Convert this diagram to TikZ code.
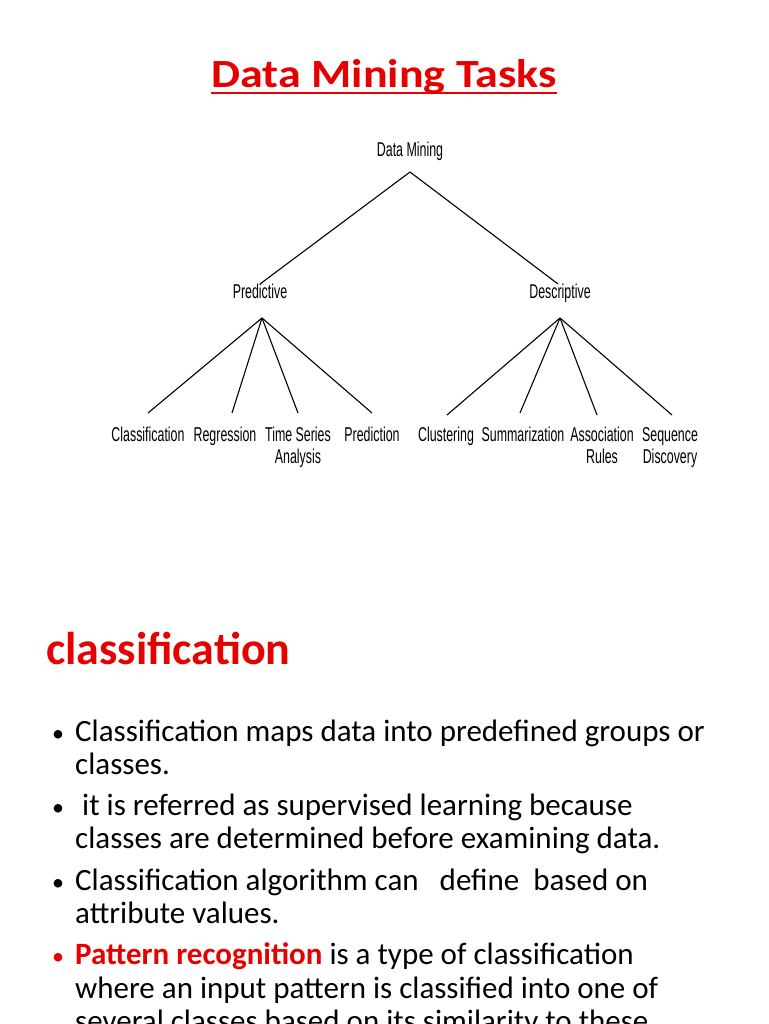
\documentclass[tikz,border=0pt]{standalone}
\usepackage{fontspec}
\setmainfont{Carlito}
\newfontfamily\narrowf[FakeStretch=0.62]{Liberation Sans}
\definecolor{tred}{RGB}{230,0,0}
\begin{document}
\begin{tikzpicture}[x=1pt,y=-1pt,
  tn/.style={font=\narrowf\fontsize{20}{22}\selectfont,align=center,inner sep=1pt,anchor=north},
  bl/.style={anchor=base west,inner sep=0pt,font=\fontsize{31}{34}\selectfont},
  ln/.style={line width=1.1pt}]
\useasboundingbox[fill=white] (0,0) rectangle (768,1024);
\clip (0,0) rectangle (768,1024);
\node[anchor=base,inner sep=0pt,font=\bfseries\fontsize{40}{44}\selectfont,text=tred] (title) at (384,88) {\scalebox{1.15}[1]{Data Mining Tasks}};
\draw[tred,line width=2.2pt] ([yshift=-5pt]title.base west) -- ([yshift=-5pt]title.base east);
\node[tn] (dm) at (410,141) {Data Mining};
\node[tn] (pr) at (260,283) {Predictive};
\node[tn] (de) at (560,283) {Descriptive};
\node[tn] (c1) at (148,426) {Classification};
\node[tn] (c2) at (225,426) {Regression};
\node[tn] (c3) at (298,426) {Time Series\\Analysis};
\node[tn] (c4) at (372,426) {Prediction};
\node[tn] (c5) at (446,426) {Clustering};
\node[tn] (c6) at (523,426) {Summarization};
\node[tn] (c7) at (602,426) {Association\\Rules};
\node[tn] (c8) at (670,426) {Sequence\\Discovery};
\coordinate (dmb) at (410,172);
\coordinate (prb) at (262,318);
\coordinate (deb) at (560,318);
\draw[ln] (dmb) -- (260,284);
\draw[ln] (dmb) -- (558,284);
\draw[ln] (prb) -- (148,413);
\draw[ln] (prb) -- (232,413);
\draw[ln] (prb) -- (298,413);
\draw[ln] (prb) -- (372,413);
\draw[ln] (deb) -- (447,415);
\draw[ln] (deb) -- (520,413);
\draw[ln] (deb) -- (597,415);
\draw[ln] (deb) -- (672,415);
\node[anchor=base west,inner sep=0pt,font=\bfseries\fontsize{46}{50}\selectfont,text=tred] (cl) at (46,664) {classification};
\foreach \y/\t [count=\i] in {741/Classification maps data into predefined groups or,
  774/classes.,
  815/{\ it is referred as supervised learning because},
  848/classes are determined before examining data.,
  890/Classification algorithm can\ \ \ define\ \ based on,
  923/attribute values.,
  964/{\textcolor{tred}{\bfseries Pattern recognition} is a type of classification},
  998/where an input pattern is classified into one of,
  1031/several classes based on its similarity to these}
  \node[bl] (t\i) at (75,\y) {\t};
\foreach \y in {741,815,890} \node[bl,font=\fontsize{24}{28}\selectfont] at (52,\y) {•};
\node[bl,text=tred,font=\fontsize{24}{28}\selectfont] at (52,964) {•};
\end{tikzpicture}
\end{document}
